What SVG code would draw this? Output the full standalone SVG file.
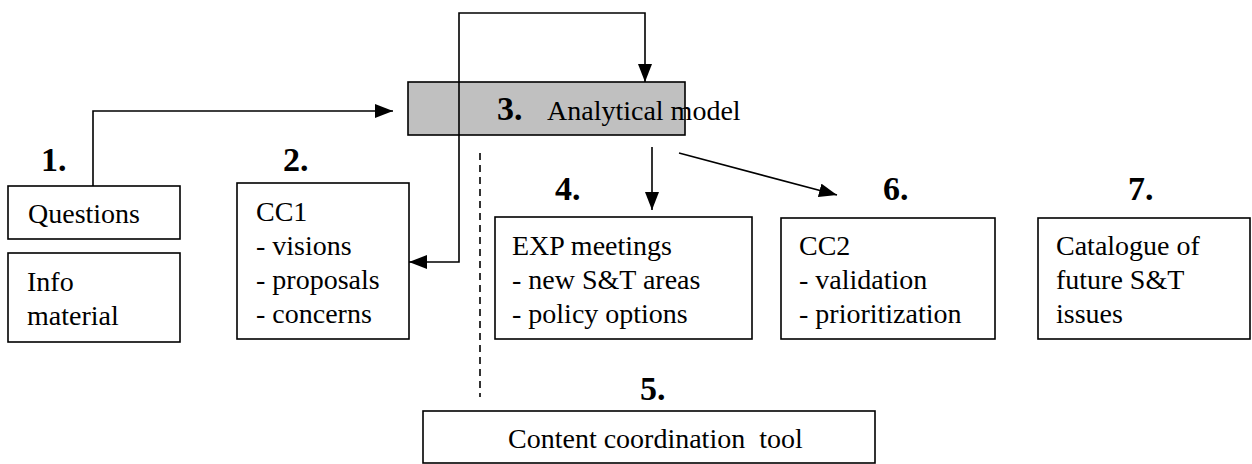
<svg xmlns="http://www.w3.org/2000/svg" width="1252" height="464" viewBox="0 0 1252 464">
<style>
.box{fill:#fff;stroke:#000;stroke-width:1.6}
.gray{fill:#c0c0c0;stroke:#000;stroke-width:1.6}
.t{font-family:"Liberation Serif","Times New Roman",serif;font-size:28px;fill:#000}
.n{font-family:"Liberation Serif","Times New Roman",serif;font-size:34px;font-weight:bold;fill:#000}
.c{fill:none;stroke:#000;stroke-width:1.6}
.d{fill:none;stroke:#000;stroke-width:1.6;stroke-dasharray:7,5}
</style>
<defs>
<marker id="arr" markerUnits="userSpaceOnUse" markerWidth="18" markerHeight="14" refX="18" refY="7" orient="auto-start-reverse">
<path d="M0,0 L18,7 L0,14 z" fill="#000"/>
</marker>
</defs>
<rect width="1252" height="464" fill="#fff"/>
<g id="n1">
<text class="n" x="41" y="171">1.</text>
<rect class="box" x="8" y="186" width="172" height="53"/>
<text class="t" x="28" y="223">Questions</text>
</g>
<g id="info">
<rect class="box" x="8" y="253" width="172" height="89"/>
<text class="t" x="27" y="291">Info</text>
<text class="t" x="27" y="325">material</text>
</g>
<g id="n2">
<text class="n" x="283" y="171">2.</text>
<rect class="box" x="237" y="183" width="172" height="156"/>
<text class="t" x="256" y="221">CC1</text>
<text class="t" x="256" y="255">- visions</text>
<text class="t" x="256" y="289">- proposals</text>
<text class="t" x="256" y="323">- concerns</text>
</g>
<g id="n3">
<rect class="gray" x="408" y="82" width="277" height="53"/>
<text class="n" x="497" y="120">3.</text>
<text class="t" x="547" y="120">Analytical model</text>
</g>
<g id="n4">
<text class="n" x="555" y="200">4.</text>
<rect class="box" x="495" y="217" width="257" height="122"/>
<text class="t" x="512" y="255">EXP meetings</text>
<text class="t" x="512" y="289">- new S&amp;T areas</text>
<text class="t" x="512" y="323">- policy options</text>
</g>
<g id="n6">
<text class="n" x="883" y="200">6.</text>
<rect class="box" x="781" y="218" width="214" height="121"/>
<text class="t" x="799" y="255">CC2</text>
<text class="t" x="799" y="289">- validation</text>
<text class="t" x="799" y="323">- prioritization</text>
</g>
<g id="n7">
<text class="n" x="1128" y="200">7.</text>
<rect class="box" x="1038" y="218" width="212" height="121"/>
<text class="t" x="1056" y="255">Catalogue of</text>
<text class="t" x="1056" y="289">future S&amp;T</text>
<text class="t" x="1056" y="323">issues</text>
</g>
<g id="n5">
<text class="n" x="640" y="400">5.</text>
<rect class="box" x="423" y="411" width="452" height="52"/>
<text class="t" x="508" y="448" xml:space="preserve">Content coordination  tool</text>
</g>
<g id="connectors">
<path class="c" d="M93,186 V111 H393" marker-end="url(#arr)"/>
<path class="c" d="M409,262 H459 V13 H645 V82" marker-start="url(#arr)" marker-end="url(#arr)"/>
<path class="c" d="M652,147 V210" marker-end="url(#arr)"/>
<path class="c" d="M679,153 L837,195" marker-end="url(#arr)"/>
<path class="d" d="M480,153 V397"/>
</g>
</svg>
